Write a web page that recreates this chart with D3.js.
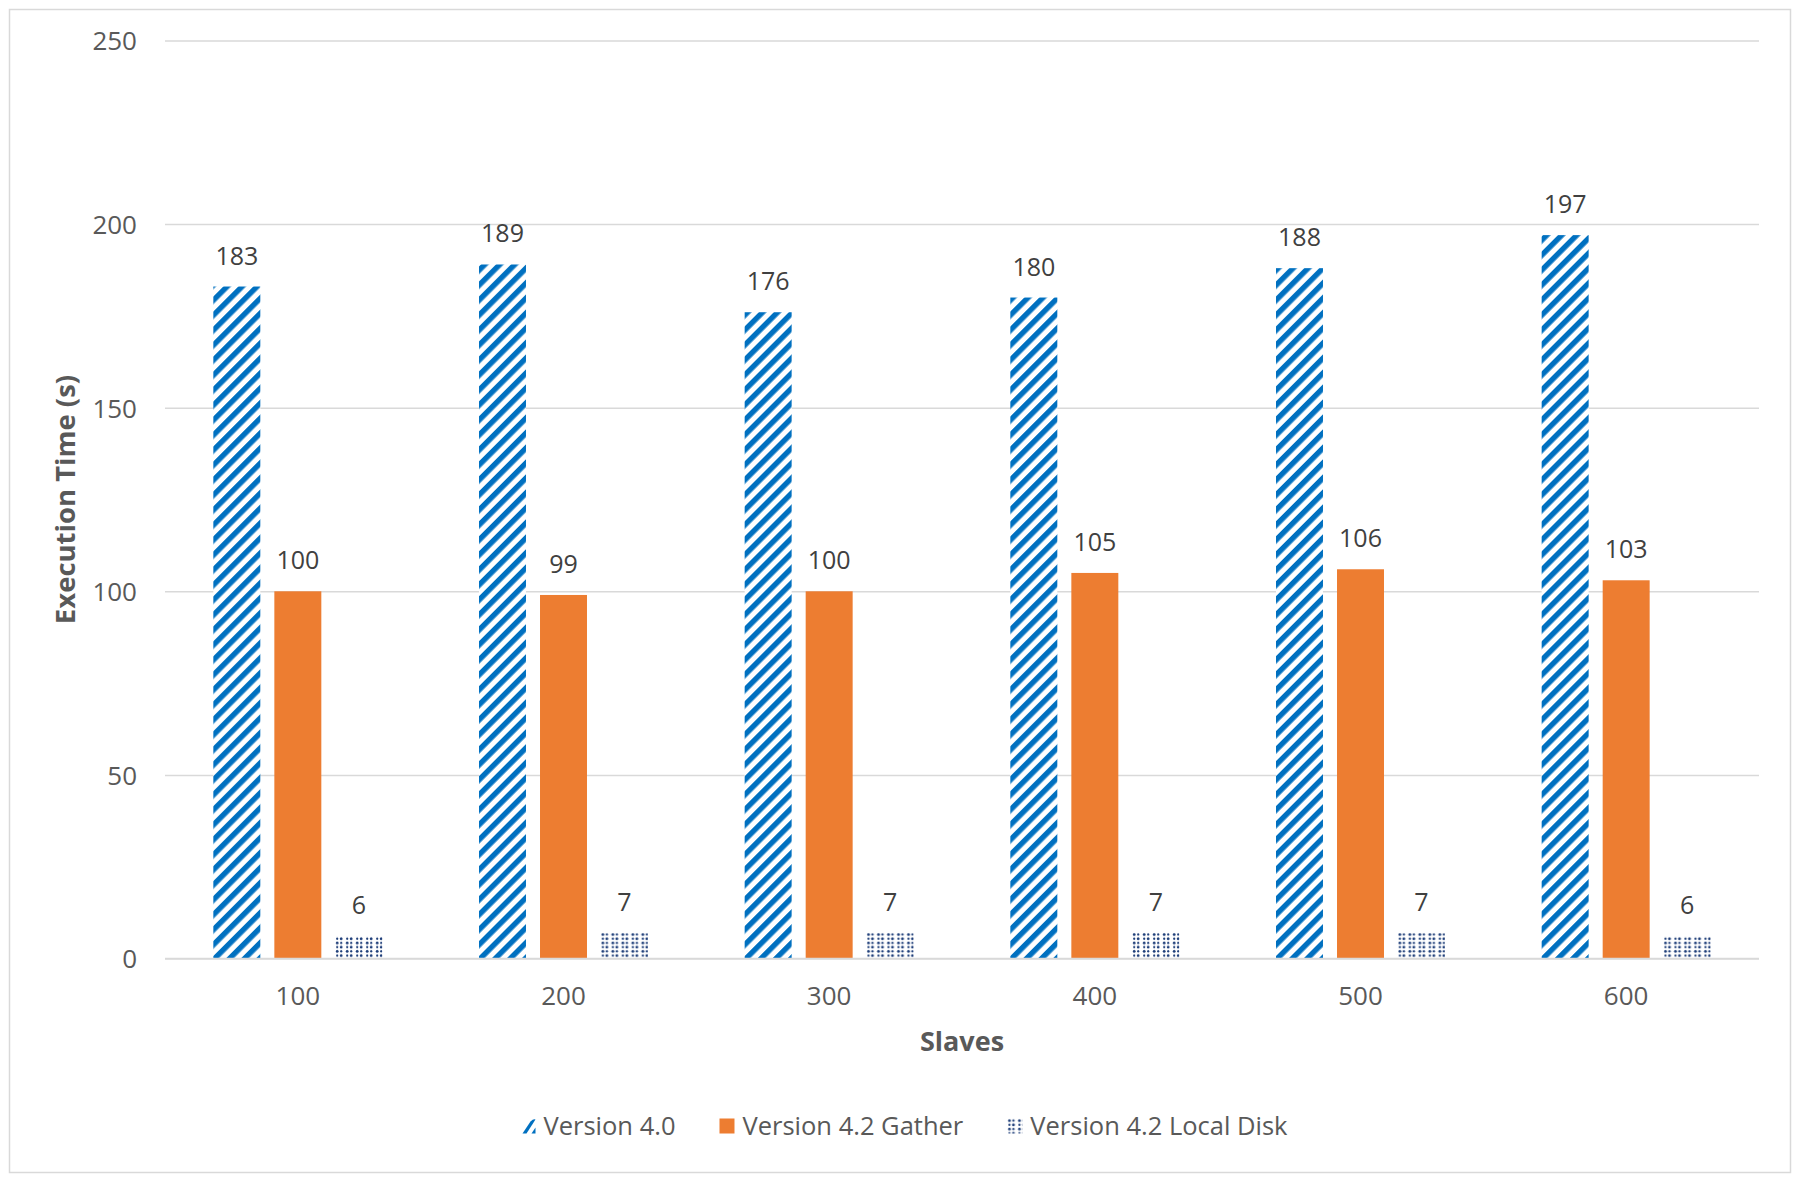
<!DOCTYPE html>
<html><head><meta charset="utf-8">
<script src="https://cdn.jsdelivr.net/npm/d3@7"></script>
<style>
body{margin:0;background:#fff;}
svg{display:block;font-family:"Open Sans",sans-serif;}
</style></head>
<body><svg id="chart" width="1800" height="1182"></svg>
<script>
const categories = ["100","200","300","400","500","600"];
const seriesNames = ["Version 4.0","Version 4.2 Gather","Version 4.2 Local Disk"];
const v40 = [183,189,176,180,188,197];
const v42Gather = [100,99,100,105,106,103];
const v42Local = [6,7,7,7,7,6];
const yTicks = [0,50,100,150,200,250];
const seriesValues = [v40, v42Gather, v42Local];

const svg = d3.select("#chart");
const defs = svg.append("defs");
// stripes
const ps = defs.append("pattern").attr("id","stripes").attr("patternUnits","userSpaceOnUse")
  .attr("width",10.6).attr("height",10.6).attr("patternTransform","rotate(45)");
ps.append("rect").attr("width",10.6).attr("height",10.6).attr("fill","#fff");
ps.append("rect").attr("x",0).attr("width",5.4).attr("height",10.6).attr("fill","#0070C0");
// dots
const pd = defs.append("pattern").attr("id","dots").attr("patternUnits","userSpaceOnUse")
  .attr("width",10).attr("height",8.4);
pd.append("rect").attr("width",10).attr("height",8.4).attr("fill","#fff");
[[2.2,2.1],[6.2,2.1],[2.2,6.3],[6.2,6.3]].forEach(([cx,cy],i)=>{
  pd.append("circle").attr("cx",cx).attr("cy",cy).attr("r", i%3===0?1.4:1.1).attr("fill","#203F7A");
});
const fills = ["url(#stripes)","#ED7D31","url(#dots)"];

// border
svg.append("rect").attr("x",9.5).attr("y",9.5).attr("width",1781).attr("height",1163)
  .attr("fill","none").attr("stroke","#d9d9d9").attr("stroke-width",1.5);

const L=165, R=1759, T=40.5, B=958.5;
const y = d3.scaleLinear().domain([0,250]).range([B,T]);
const x0 = d3.scaleBand().domain(categories).range([L,R]).padding(0);
const bw = x0.bandwidth();
const x1 = d3.scaleBand().domain(seriesNames).range([(bw-169)/2,(bw+169)/2]).paddingInner(0.23).paddingOuter(0);

// gridlines
const gAxis = svg.append("g").attr("transform",`translate(${L},0)`)
  .call(d3.axisLeft(y).tickValues(yTicks).tickSize(-(R-L)).tickPadding(28));
gAxis.select(".domain").remove();
gAxis.selectAll(".tick line").attr("stroke","#d9d9d9").attr("stroke-width",1.5);
gAxis.selectAll(".tick text").attr("fill","#595959").attr("font-size",26)
  .attr("font-family","'Open Sans',sans-serif").attr("dy","0.36em");

// bars
const groups = svg.append("g").selectAll("g").data(categories).join("g")
  .attr("transform",c=>`translate(${x0(c)},0)`);
const barData = (c,ci)=>seriesNames.map((s,si)=>({s,si,v:seriesValues[si][ci]}));
groups.each(function(c,ci){
  const g=d3.select(this);
  const d=barData(c,ci);
  g.selectAll("rect").data(d).join("rect")
    .attr("x",e=>x1(e.s)).attr("width",x1.bandwidth())
    .attr("y",e=>y(e.v)).attr("height",e=>y(0)-y(e.v))
    .attr("fill",e=>fills[e.si]);
  g.selectAll("text").data(d).join("text")
    .attr("x",e=>x1(e.s)+x1.bandwidth()/2).attr("y",e=>y(e.v)-22)
    .attr("text-anchor","middle").attr("font-size",25).attr("fill","#404040")
    .text(e=>e.v);
});

// baseline axis
svg.append("line").attr("x1",L).attr("x2",R).attr("y1",B).attr("y2",B)
  .attr("stroke","#d9d9d9").attr("stroke-width",1.5);

// x axis labels
const gx = svg.append("g").attr("transform",`translate(0,${B})`)
  .call(d3.axisBottom(x0).tickSize(0).tickPadding(0));
gx.select(".domain").remove();
gx.selectAll(".tick text").attr("fill","#595959").attr("font-size",26)
  .attr("font-family","'Open Sans',sans-serif").attr("dy",null).attr("y",46);

// axis titles
svg.append("text").attr("x",962).attr("y",1051).attr("text-anchor","middle")
  .attr("font-size",27).attr("font-weight","bold").attr("fill","#595959").text("Slaves");
svg.append("text").attr("transform",`translate(75,${(T+B)/2}) rotate(-90)`)
  .attr("text-anchor","middle").attr("font-size",27.5).attr("font-weight","bold")
  .attr("fill","#595959").text("Execution Time (s)");

// legend
const leg = svg.append("g");
let cx = 0;
seriesNames.forEach((s,i)=>{
  const it = leg.append("g").attr("transform",`translate(${cx},0)`);
  if(i===0){
    it.append("path").attr("d","M2,15 L10,3 Q13,0 15,1 L6,15 Z").attr("fill","#0070C0");
    it.append("path").attr("d","M11,15 L15,9 L15,15 Z").attr("fill","#0070C0");
  } else {
    it.append("rect").attr("width",15).attr("height",15).attr("fill",fills[i]);
  }
  const t = it.append("text").attr("x",23).attr("y",7.5).attr("dy","0.36em")
    .attr("font-size",25.5).attr("fill","#595959").text(s);
  cx += 23 + t.node().getComputedTextLength() + 44;
});
const total = cx - 44;
leg.attr("transform",`translate(${904 - total/2},${1126-7.5})`);
</script></body></html>
